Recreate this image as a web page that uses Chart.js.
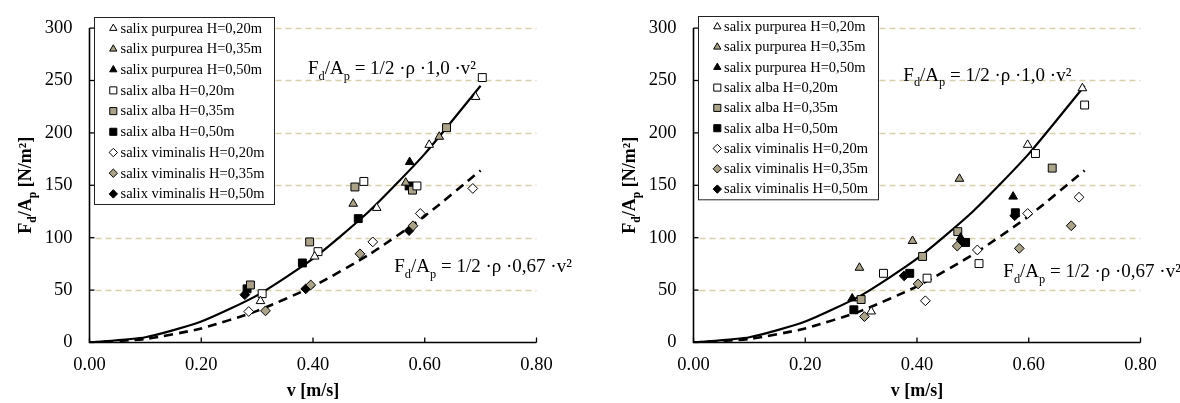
<!DOCTYPE html>
<html>
<head>
<meta charset="utf-8">
<script src="https://cdn.jsdelivr.net/npm/chart.js@4.4.0/dist/chart.umd.min.js"></script>
<style>
  html, body { margin: 0; padding: 0; background: #fff; }
  #wrap { position: relative; width: 1180px; height: 403px; overflow: hidden; }
  #c1 { position: absolute; left: 0; top: 0; }
  #c2 { position: absolute; left: 604px; top: 0; }
</style>
</head>
<body>
<div id="wrap">
  <canvas id="c1" width="600" height="403"></canvas>
  <canvas id="c2" width="576" height="403"></canvas>
</div>
<script>
// ---- data ----
const seriesNames = [
  'salix purpurea H=0,20m', 'salix purpurea H=0,35m', 'salix purpurea H=0,50m',
  'salix alba H=0,20m', 'salix alba H=0,35m', 'salix alba H=0,50m',
  'salix viminalis H=0,20m', 'salix viminalis H=0,35m', 'salix viminalis H=0,50m'
];

// reference curves, F/A [N/m²] at v = 0 ... 0.7 m/s
const curveV = [0, 0.1, 0.2, 0.3, 0.4, 0.5, 0.6, 0.7];
const curveCd100 = [0, 5, 20, 45, 80, 125, 180, 245];
const curveCd067 = [0, 3.4, 13.4, 30.2, 53.6, 83.8, 120.6, 164.2];

// left panel, [v, F/A]
const leftPurp20 = [[0.306, 39.5], [0.403, 82], [0.514, 128.4], [0.608, 188.6], [0.691, 234.3]];
const leftPurp35 = [[0.472, 132.4], [0.566, 152.5], [0.626, 196.3]];
const leftPurp50 = [[0.573, 172.2]];
const leftAlba20 = [[0.309, 46.6], [0.409, 86.7], [0.491, 153.7], [0.586, 149.4], [0.703, 252.8]];
const leftAlba35 = [[0.288, 54.9], [0.394, 96], [0.475, 148.4], [0.578, 145.4], [0.639, 205]];
const leftAlba50 = [[0.282, 51.2], [0.381, 75.9], [0.481, 118.2], [0.572, 149.4]];
const leftVim20 = [[0.285, 29.6], [0.507, 96], [0.592, 123.1], [0.686, 147]];
const leftVim35 = [[0.315, 30.2], [0.396, 54.9], [0.484, 84.6], [0.579, 111.4]];
const leftVim50 = [[0.278, 45.6], [0.387, 51.2], [0.572, 106.8]];

// right panel, [v, F/A]
const rightPurp20 = [[0.318, 29.6], [0.598, 188.6], [0.696, 242.6]];
const rightPurp35 = [[0.297, 71.3], [0.392, 96.9], [0.476, 156.2]];
const rightPurp50 = [[0.284, 42], [0.478, 100], [0.572, 139.2]];
const rightAlba20 = [[0.340, 66], [0.418, 61.4], [0.511, 75.3], [0.612, 180.3], [0.700, 226.6]];
const rightAlba35 = [[0.300, 41], [0.410, 82.1], [0.473, 105.8], [0.642, 166.4]];
const rightAlba50 = [[0.287, 31.2], [0.387, 66], [0.487, 95.5], [0.576, 123.8]];
const rightVim20 = [[0.415, 39.8], [0.508, 88.3], [0.598, 123.1], [0.690, 138.6]];
const rightVim35 = [[0.306, 24.7], [0.402, 55.9], [0.472, 92], [0.583, 89.8], [0.676, 111.4]];
const rightVim50 = [[0.377, 63.6], [0.481, 96.5], [0.575, 121]];

// ---- styles ----
const SERIF = "'Liberation Serif', 'Times New Roman', serif";
const GRAY = '#aaa38a';
const GRID = '#d8d0ac';
const markerStyles = [
  { shape: 'triangle', fill: '#fff' }, { shape: 'triangle', fill: GRAY }, { shape: 'triangle', fill: '#000' },
  { shape: 'rect', fill: '#fff' }, { shape: 'rect', fill: GRAY }, { shape: 'rect', fill: '#000' },
  { shape: 'rectRot', fill: '#fff' }, { shape: 'rectRot', fill: GRAY }, { shape: 'rectRot', fill: '#000' }
];
const markerRadius = { triangle: 5, rect: 5.6, rectRot: 4.9 };

function toXY(pairs) {
  return pairs.map(p => ({ x: p[0], y: p[1] }));
}

function drawMarker(ctx, shape, fill, x, y, r) {
  ctx.beginPath();
  if (shape === 'triangle') {
    ctx.moveTo(x, y - r);
    ctx.lineTo(x + r * 0.866, y + r * 0.5);
    ctx.lineTo(x - r * 0.866, y + r * 0.5);
  } else if (shape === 'rect') {
    const s = r * 0.7071;
    ctx.rect(x - s, y - s, 2 * s, 2 * s);
  } else {
    ctx.moveTo(x, y - r);
    ctx.lineTo(x + r, y);
    ctx.lineTo(x, y + r);
    ctx.lineTo(x - r, y);
  }
  ctx.closePath();
  ctx.fillStyle = fill;
  ctx.fill();
  ctx.strokeStyle = '#000';
  ctx.lineWidth = 1;
  ctx.stroke();
}

// text with subscripts: parts = [[text, isSub], ...]
function richWidth(ctx, parts, size, weight) {
  let w = 0;
  parts.forEach(([t, sub]) => {
    ctx.font = `${weight} ${sub ? size * 0.65 : size}px ${SERIF}`;
    w += ctx.measureText(t).width;
  });
  return w;
}
function drawRich(ctx, parts, x, y, size, weight) {
  let cx = x;
  parts.forEach(([t, sub]) => {
    ctx.font = `${weight} ${sub ? size * 0.65 : size}px ${SERIF}`;
    ctx.fillText(t, cx, sub ? y + size * 0.28 : y);
    cx += ctx.measureText(t).width;
  });
}

const eqParts = (cd) => [['F', false], ['d', true], ['/A', false], ['p', true], [' = 1/2 \u00b7\u03c1 \u00b7' + cd + ' \u00b7v\u00b2', false]];
const yTitleParts = [['F', false], ['d', true], ['/A', false], ['p', true], [' [N/m\u00b2]', false]];

const decor = {
  id: 'decor',
  beforeDatasetsDraw(chart, args, opts) {
    const { ctx, chartArea: a, scales: { x, y } } = chart;
    ctx.save();
    ctx.strokeStyle = GRID;
    ctx.lineWidth = 1.3;
    ctx.setLineDash([6, 4]);
    y.ticks.forEach(t => {
      if (t.value === 0) return;
      const py = Math.round(y.getPixelForValue(t.value)) + 0.5;
      ctx.beginPath(); ctx.moveTo(a.left + 6, py); ctx.lineTo(a.right, py); ctx.stroke();
    });
    ctx.setLineDash([]);
    ctx.restore();
  },
  afterDatasetsDraw(chart, args, opts) {
    const { ctx, chartArea: a, scales: { x, y } } = chart;
    ctx.save();
    // axes with inward ticks
    ctx.strokeStyle = '#000';
    ctx.lineWidth = 1.6;
    ctx.beginPath();
    ctx.moveTo(a.left, a.top); ctx.lineTo(a.left, a.bottom); ctx.lineTo(a.right, a.bottom);
    ctx.stroke();
    ctx.lineWidth = 1.3;
    x.ticks.forEach(t => {
      const px = x.getPixelForValue(t.value);
      ctx.beginPath(); ctx.moveTo(px, a.bottom); ctx.lineTo(px, a.bottom - 5); ctx.stroke();
    });
    y.ticks.forEach(t => {
      const py = y.getPixelForValue(t.value);
      ctx.beginPath(); ctx.moveTo(a.left, py); ctx.lineTo(a.left + 5, py); ctx.stroke();
    });

    // legend box
    const L = opts.legend;
    ctx.fillStyle = '#fff';
    ctx.fillRect(L.left, L.top, L.right - L.left, L.bottom - L.top);
    ctx.strokeStyle = '#222';
    ctx.lineWidth = 1;
    ctx.strokeRect(L.left + 0.5, L.top + 0.5, L.right - L.left, L.bottom - L.top);
    ctx.textBaseline = 'middle';
    ctx.textAlign = 'left';
    seriesNames.forEach((name, i) => {
      const cy = L.row0 + i * L.dy;
      const m = markerStyles[i];
      drawMarker(ctx, m.shape, m.fill, L.mx, cy, m.shape === 'rect' ? 5 : 4.2);
      ctx.fillStyle = '#000';
      ctx.font = `14.5px ${SERIF}`;
      ctx.fillText(name, L.tx, cy + 0.5);
    });

    // equations
    ctx.textBaseline = 'alphabetic';
    ctx.fillStyle = '#000';
    opts.equations.forEach(eq => {
      drawRich(ctx, eqParts(eq.cd), x.getPixelForValue(eq.v), y.getPixelForValue(eq.f), 19, 'normal');
    });

    // axis titles
    ctx.font = `bold 18px ${SERIF}`;
    ctx.textAlign = 'center';
    ctx.fillText('v [m/s]', (a.left + a.right) / 2, 396);
    ctx.textAlign = 'left';
    const w = richWidth(ctx, yTitleParts, 18, 'bold');
    ctx.translate(31, (a.top + a.bottom) / 2);
    ctx.rotate(-Math.PI / 2);
    drawRich(ctx, yTitleParts, -w / 2, 0, 18, 'bold');
    ctx.restore();
  }
};

function buildDatasets(groups) {
  const sets = groups.map((pts, i) => ({
    label: seriesNames[i],
    data: toXY(pts),
    pointStyle: markerStyles[i].shape,
    pointRadius: markerRadius[markerStyles[i].shape],
    backgroundColor: markerStyles[i].fill,
    borderColor: '#000',
    pointBorderWidth: 1,
    showLine: false,
    order: 0
  }));
  sets.push({
    label: 'Cd 1,0',
    data: curveV.map((v, i) => ({ x: v, y: curveCd100[i] })),
    showLine: true, pointRadius: 0, borderColor: '#000', borderWidth: 2.2,
    tension: 0.2, order: 5
  });
  sets.push({
    label: 'Cd 0,67',
    data: curveV.map((v, i) => ({ x: v, y: curveCd067[i] })),
    showLine: true, pointRadius: 0, borderColor: '#000', borderWidth: 2.6,
    borderDash: [9, 6], tension: 0.2, order: 5
  });
  return sets;
}

function makeChart(id, groups, padRight, decorOpts) {
  return new Chart(document.getElementById(id), {
    type: 'scatter',
    data: { datasets: buildDatasets(groups) },
    options: {
      responsive: false,
      animation: false,
      events: [],
      layout: { padding: { left: 0, top: 17, right: padRight, bottom: 0 } },
      plugins: { legend: { display: false }, tooltip: { enabled: false }, decor: decorOpts },
      scales: {
        x: {
          type: 'linear', min: 0, max: 0.8,
          grid: { display: false, drawTicks: false },
          border: { display: false },
          ticks: {
            stepSize: 0.2, padding: 12, color: '#000',
            font: { family: SERIF, size: 18.5 },
            callback: v => v.toFixed(2)
          },
          afterFit: s => { s.height = 60.5; }
        },
        y: {
          min: 0, max: 300,
          grid: { display: false, drawTicks: false },
          border: { display: false },
          ticks: {
            stepSize: 50, padding: 17, color: '#000',
            font: { family: SERIF, size: 18.5 }
          },
          afterFit: s => { s.width = 89.5; }
        }
      }
    },
    plugins: [decor]
  });
}

makeChart('c1',
  [leftPurp20, leftPurp35, leftPurp50, leftAlba20, leftAlba35, leftAlba50, leftVim20, leftVim35, leftVim50],
  63.5,
  {
    legend: { left: 94, top: 17, right: 274, bottom: 204, row0: 28.3, dy: 20.7, mx: 113.3, tx: 120.5 },
    equations: [{ cd: '1,0', v: 0.391, f: 255.8 }, { cd: '0,67', v: 0.5455, f: 66.8 }]
  });

makeChart('c2',
  [rightPurp20, rightPurp35, rightPurp50, rightAlba20, rightAlba35, rightAlba50, rightVim20, rightVim35, rightVim50],
  39.5,
  {
    legend: { left: 94, top: 16, right: 274, bottom: 199.3, row0: 26.7, dy: 20.3, mx: 113.3, tx: 120 },
    equations: [{ cd: '1,0', v: 0.3755, f: 249.8 }, { cd: '0,67', v: 0.5545, f: 62.2 }]
  });
</script>
</body>
</html>
